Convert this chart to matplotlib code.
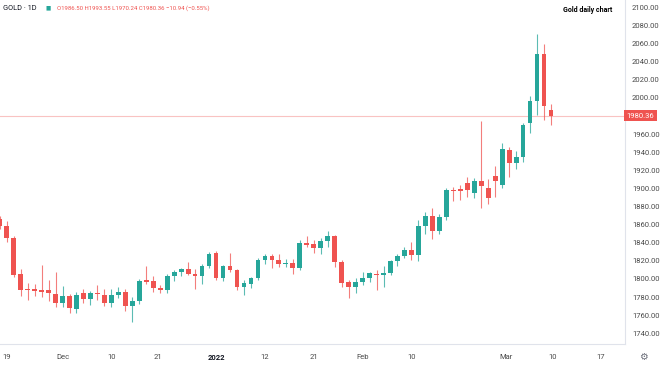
import numpy as np
import matplotlib
matplotlib.use("Agg")
import matplotlib.pyplot as plt
import matplotlib.transforms as mtransforms

# daily OHLC, 18 Nov 2021 .. 10 Mar 2022
opens = [1866, 1859, 1845, 1805, 1789, 1789, 1788, 1788, 1783, 1774,
         1781, 1767, 1784, 1778, 1784, 1782, 1774, 1782, 1786, 1770,
         1776, 1799, 1798, 1790, 1788, 1803, 1808, 1811, 1806, 1803,
         1814, 1829, 1801, 1814, 1810, 1791, 1794, 1801, 1821, 1825,
         1821, 1817, 1818, 1812, 1840, 1839, 1834, 1842, 1847, 1819,
         1797, 1791, 1797, 1801, 1806, 1804, 1807, 1820, 1825, 1832,
         1826, 1858, 1870, 1853, 1869, 1898, 1899, 1906, 1895, 1908,
         1901, 1914, 1904, 1942, 1928, 1935, 1972, 1997, 2049, 1986.50]
highs = [1870, 1864, 1848, 1811, 1796, 1794, 1815, 1799, 1808, 1792,
         1783, 1786, 1789, 1787, 1793, 1789, 1789, 1791, 1789, 1780,
         1800, 1814, 1803, 1793, 1805, 1810, 1812, 1819, 1811, 1816,
         1830, 1831, 1815, 1829, 1811, 1799, 1802, 1823, 1828, 1828,
         1828, 1822, 1822, 1843, 1847, 1843, 1845, 1853, 1849, 1821,
         1799, 1801, 1808, 1808, 1810, 1814, 1821, 1828, 1835, 1841,
         1865, 1874, 1878, 1872, 1901, 1902, 1904, 1913, 1911, 1974,
         1910, 1925, 1950, 1946, 1941, 1972, 2002, 2070, 2059, 1993.55]
lows = [1855, 1841, 1802, 1781, 1777, 1781, 1780, 1776, 1769, 1769,
        1762, 1762, 1774, 1771, 1777, 1770, 1769, 1779, 1765, 1752,
        1772, 1794, 1786, 1784, 1785, 1798, 1803, 1804, 1789, 1795,
        1812, 1799, 1798, 1808, 1788, 1782, 1790, 1799, 1816, 1812,
        1813, 1813, 1805, 1810, 1835, 1829, 1828, 1835, 1813, 1791,
        1779, 1785, 1793, 1797, 1788, 1791, 1804, 1814, 1823, 1821,
        1820, 1850, 1844, 1850, 1865, 1886, 1887, 1891, 1889, 1878,
        1883, 1890, 1900, 1913, 1921, 1929, 1961, 1981, 1976, 1970.24]
closes = [1859, 1845, 1804, 1788, 1788, 1787, 1786, 1784, 1774, 1781,
          1768, 1782, 1778, 1784, 1783, 1774, 1782, 1786, 1770, 1776,
          1798, 1797, 1790, 1788, 1803, 1808, 1811, 1806, 1803, 1814,
          1828, 1801, 1814, 1810, 1791, 1796, 1801, 1821, 1825, 1821,
          1817, 1818, 1812, 1840, 1838, 1834, 1842, 1847, 1819, 1796,
          1791, 1797, 1801, 1807, 1804, 1807, 1820, 1825, 1832, 1826,
          1858, 1870, 1853, 1869, 1898, 1897, 1897, 1898, 1908, 1903,
          1889, 1908, 1944, 1928, 1935, 1970, 1997, 2049, 1991, 1980.36]

tick_labels = ["19", "Dec", "10", "21", "2022", "12", "21", "Feb", "10", "Mar", "10", "17"]
tick_bars = [1, 9, 16, 22.7, 31, 38, 45, 52, 59, 72.6, 79.2, 86.1]
last_price = 1980.36
# the 1980 level is hidden behind the last-price tag
price_ticks = [p for p in range(1740, 2101, 20) if abs(p - last_price) > 5]

up_col = "#26a69a"
down_col = "#ef5350"

W, H = 660, 365
fig = plt.figure(figsize=(W / 100, H / 100), dpi=100)
ax = fig.add_axes([0, 21 / H, 625 / W, 344 / H])

o = np.array(opens)
h = np.array(highs)
l = np.array(lows)
c = np.array(closes)
x = np.arange(len(o))
cols = np.where(c >= o, up_col, down_col)

ax.vlines(x, l, h, colors=cols, linewidth=0.8, alpha=0.75, zorder=2)
body = np.maximum(np.abs(c - o), 0.9)
ax.bar(x, body, bottom=np.minimum(o, c), width=0.68, color=cols, linewidth=0, zorder=3)

ax.axhline(last_price, color=down_col, alpha=0.35, linewidth=0.8, zorder=1)

ax.set_xlim(0.04, 89.6)
ax.set_ylim(1728.2, 2108.1)

ax.yaxis.tick_right()
ax.set_yticks(price_ticks)
ax.set_yticklabels([f"{p:.2f}" for p in price_ticks])
ax.set_xticks(tick_bars)
ax.set_xticklabels(tick_labels)
ax.tick_params(axis="both", length=0, labelsize=5.5, colors="#4a4a4a")
ax.tick_params(axis="y", pad=5)
ax.tick_params(axis="x", pad=7)
for lab in ax.get_xticklabels() + ax.get_yticklabels():
    lab.set_fontfamily("Roboto")
ax.get_xticklabels()[4].set_fontweight("bold")
ax.get_xticklabels()[4].set_color("#131722")

for side in ["top", "left"]:
    ax.spines[side].set_visible(False)
for side in ["right", "bottom"]:
    ax.spines[side].set_color("#e0e3eb")
    ax.spines[side].set_linewidth(0.8)

# last price tag on the axis
trans = mtransforms.blended_transform_factory(ax.transAxes, ax.transData)
ax.text(1.003, last_price, f"{last_price:.2f}", transform=trans, fontsize=5.5,
        family="Roboto", color="white", va="center", ha="left",
        bbox=dict(boxstyle="square,pad=0.35", facecolor=down_col, edgecolor="none"))

# header texts
fig.text(3 / W, 1 - 8 / H, "GOLD · 1D", fontsize=5.3, family="Roboto", color="#131722", va="center")
fig.text(46 / W, 1 - 8 / H, "■", fontsize=4, color=up_col, va="center")
fig.text(57 / W, 1 - 8 / H, "O1986.50 H1993.55 L1970.24 C1980.36 \u221210.94 (\u22120.55%)",
         fontsize=4.3, family="Roboto", color=down_col, va="center")
fig.text(612 / W, 1 - 10 / H, "Gold daily chart", fontsize=5, family="Roboto",
         fontweight="bold", color="#000000", ha="right", va="center")
fig.text(643 / W, 1 - 357 / H, "\u2699", fontsize=7, family="DejaVu Sans",
         color="#6a6d78", ha="center", va="center")

fig.savefig("out.png", dpi=100)
